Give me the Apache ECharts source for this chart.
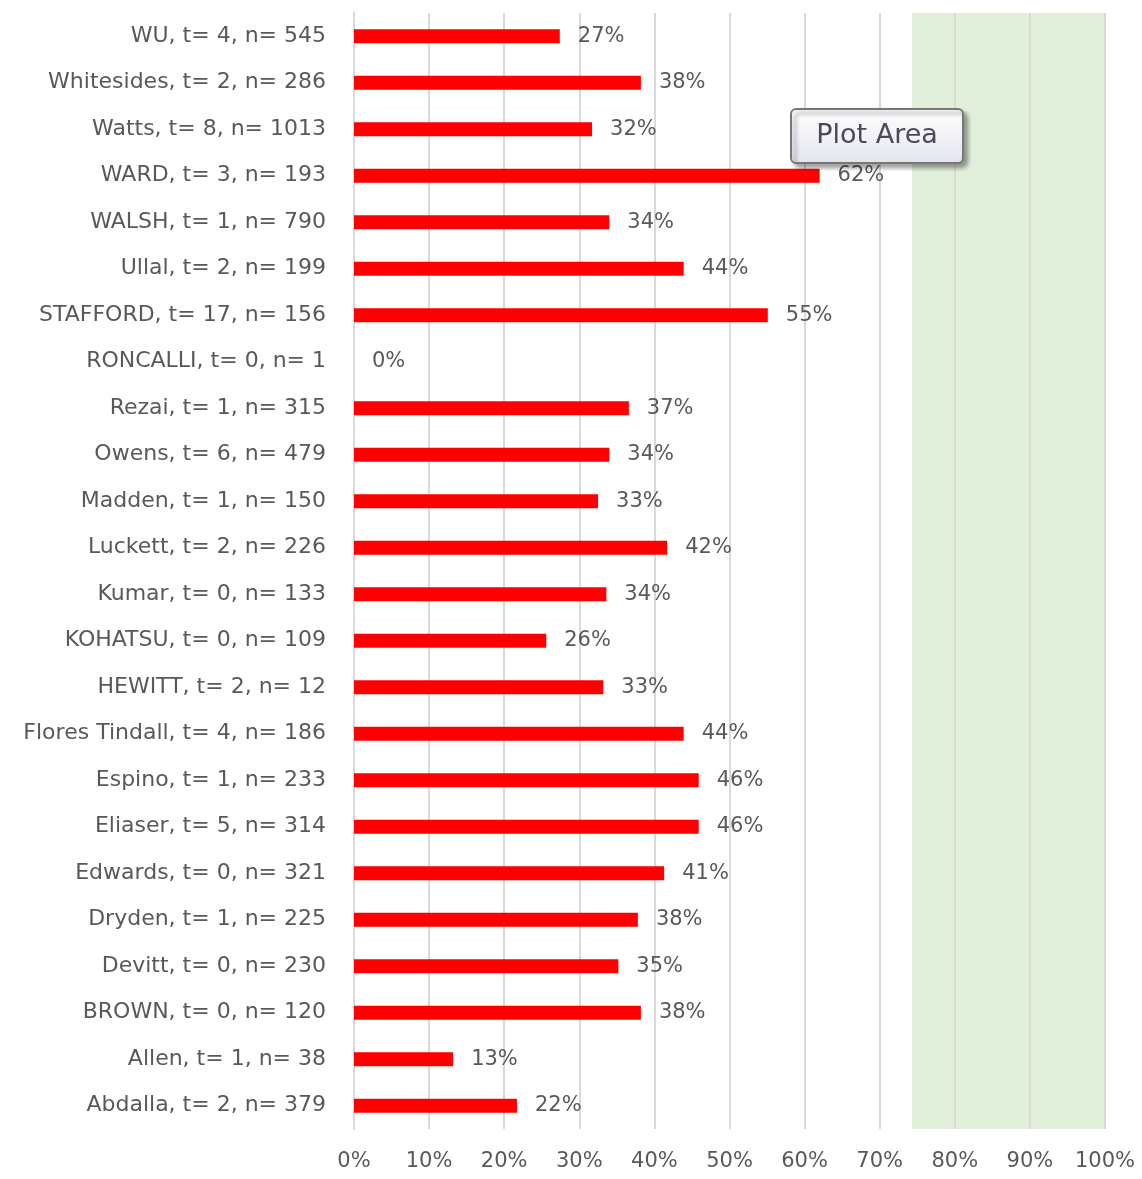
<!DOCTYPE html>
<html><head><meta charset="utf-8">
<script src="https://cdn.jsdelivr.net/npm/echarts@6/dist/echarts.min.js"></script>
<style>html,body{margin:0;padding:0;background:#fff}#c{width:1142px;height:1179px}</style>
</head><body><div id="c"></div>
<script>
// categories listed bottom to top (ECharts category y axis starts at bottom)
const categories = [
  "Abdalla, t= 2, n= 379",
  "Allen, t= 1, n= 38",
  "BROWN, t= 0, n= 120",
  "Devitt, t= 0, n= 230",
  "Dryden, t= 1, n= 225",
  "Edwards, t= 0, n= 321",
  "Eliaser, t= 5, n= 314",
  "Espino, t= 1, n= 233",
  "Flores Tindall, t= 4, n= 186",
  "HEWITT, t= 2, n= 12",
  "KOHATSU, t= 0, n= 109",
  "Kumar, t= 0, n= 133",
  "Luckett, t= 2, n= 226",
  "Madden, t= 1, n= 150",
  "Owens, t= 6, n= 479",
  "Rezai, t= 1, n= 315",
  "RONCALLI, t= 0, n= 1",
  "STAFFORD, t= 17, n= 156",
  "Ullal, t= 2, n= 199",
  "WALSH, t= 1, n= 790",
  "WARD, t= 3, n= 193",
  "Watts, t= 8, n= 1013",
  "Whitesides, t= 2, n= 286",
  "WU, t= 4, n= 545"
];
const values = [21.7, 13.2, 38.2, 35.2, 37.8, 41.3, 45.9, 45.9, 43.9, 33.2, 25.6, 33.6, 41.7, 32.5, 34.0, 36.6, 0, 55.1, 43.9, 34.0, 62.0, 31.7, 38.2, 27.4];
const highlightRange = [74.3, 100];
const xTicks = [0, 10, 20, 30, 40, 50, 60, 70, 80, 90, 100];

const FONT = 'DejaVu Sans';
const chart = echarts.init(document.getElementById('c'));
chart.setOption({
  animation: false,
  grid: {left: 354, right: 37, top: 13, bottom: 50, containLabel: false},
  xAxis: {
    type: 'value', min: xTicks[0], max: xTicks[xTicks.length - 1], interval: 10,
    axisLine: {show: false}, axisTick: {show: false},
    splitLine: {show: true, lineStyle: {color: '#d9d9d9', width: 2}},
    axisLabel: {formatter: v => v + '%', color: '#595959', fontSize: 21, fontFamily: FONT, margin: 22}
  },
  yAxis: {
    type: 'category', data: categories,
    axisLine: {show: true, lineStyle: {color: '#d9d9d9', width: 2}},
    axisTick: {show: false},
    axisLabel: {color: '#595959', fontSize: 22, fontFamily: FONT, margin: 28}
  },
  series: [{
    type: 'line', data: [], z: -1, silent: true,
    markArea: {
      silent: true, z: -1,
      itemStyle: {color: '#e2efda'},
      data: [[{xAxis: highlightRange[0]}, {xAxis: highlightRange[1]}]]
    }
  }, {
    type: 'bar', data: values, barWidth: 14, z: 3,
    itemStyle: {color: '#ff0000'},
    label: {show: true, position: 'right', distance: 18, formatter: p => Math.round(p.value) + '%',
      color: '#595959', fontSize: 21, fontFamily: FONT}
  }],
  graphic: [{
    type: 'group', left: 790, top: 108, z: 100,
    children: [
      {type: 'rect', z: 100, shape: {x: 0, y: 0, width: 172, height: 54, r: 5},
        style: {fill: new echarts.graphic.LinearGradient(0, 0, 0, 1, [{offset: 0, color: '#ffffff'}, {offset: 1, color: '#e4e4f0'}]),
          stroke: '#777777', lineWidth: 2, shadowBlur: 4, shadowOffsetX: 4, shadowOffsetY: 4, shadowColor: 'rgba(0,0,0,0.35)'}},
      {type: 'text', z: 101, style: {x: 86, y: 27, text: 'Plot Area', fill: '#4a4a5a', font: '27px "DejaVu Sans"', align: 'center', verticalAlign: 'middle'}}
    ]
  }]
});
</script>
</body></html>
